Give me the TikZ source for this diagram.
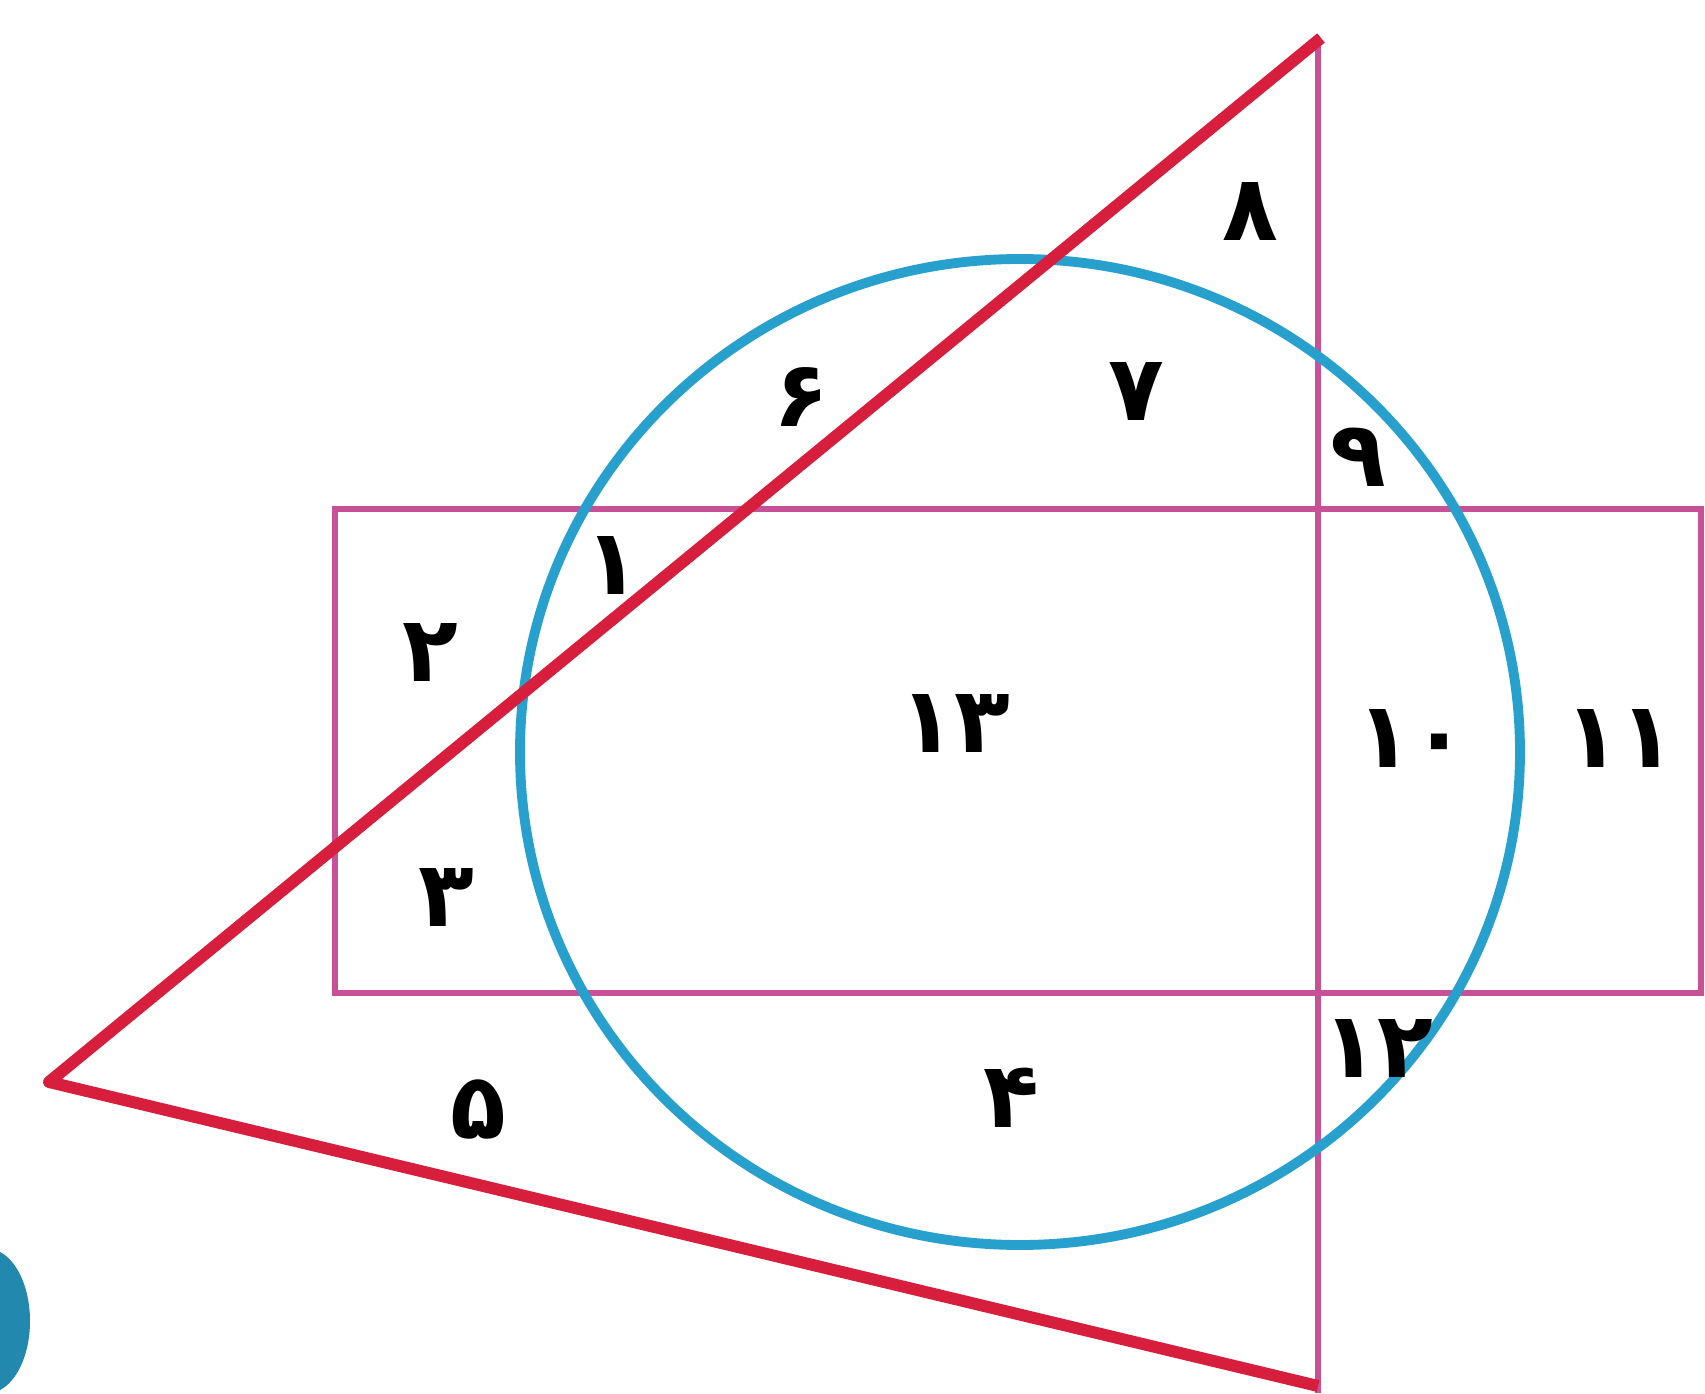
\documentclass[tikz,border=0pt]{standalone}
\usepackage{fontspec}
\usepackage{tikz}
\usetikzlibrary{calc}
\newfontfamily\arabicfont[Script=Arabic]{DejaVu Sans}
\definecolor{redline}{RGB}{215,30,60}
\definecolor{blueline}{RGB}{40,160,205}
\definecolor{pinkline}{RGB}{200,80,150}

\begin{document}
\begin{tikzpicture}[x=1cm,y=1cm,
    region/.style={font=\arabicfont\bfseries\fontsize{26}{30}\selectfont,inner sep=0pt}]
  \useasboundingbox (0,0) rectangle (17.05,13.93);
  \coordinate (apex) at (0.49,3.11);
  \coordinate (top) at (13.21,13.55);
  \coordinate (bot) at (13.18,0.07);
  \draw[pinkline,line width=1.6pt] (3.35,4.00) rectangle (17.01,8.84);
  \draw[pinkline,line width=1.6pt] (13.18,13.55) -- (13.18,0);
  \draw[blueline,line width=2.8pt] (10.20,6.41) ellipse (5.00 and 4.93);
  \draw[redline,line width=3.4pt,line join=round] (top) -- (apex) -- (bot);
  \begin{scope}
    \clip (0,0) rectangle (17.05,13.93);
    \fill[blueline!85!black] (-0.12,0.72) ellipse (0.42 and 0.72);
  \end{scope}
  \foreach \nm/\pos/\txt in {r1/{6.12,8.28}/۱, r2/{4.30,7.41}/۲, r3/{4.46,4.96}/۳,
      r4/{10.11,2.95}/۴, r5/{4.78,2.84}/۵, r6/{8.01,9.96}/۶, r7/{11.36,10.02}/۷,
      r8/{12.50,11.81}/۸, r9/{13.58,9.36}/۹, r10/{14.12,6.55}/۱۰,
      r11/{16.20,6.55}/۱۱, r12/{13.78,3.45}/۱۲, r13/{9.55,6.70}/۱۳}
    \node[region] (\nm) at (\pos) {\txt};
\end{tikzpicture}
\end{document}
